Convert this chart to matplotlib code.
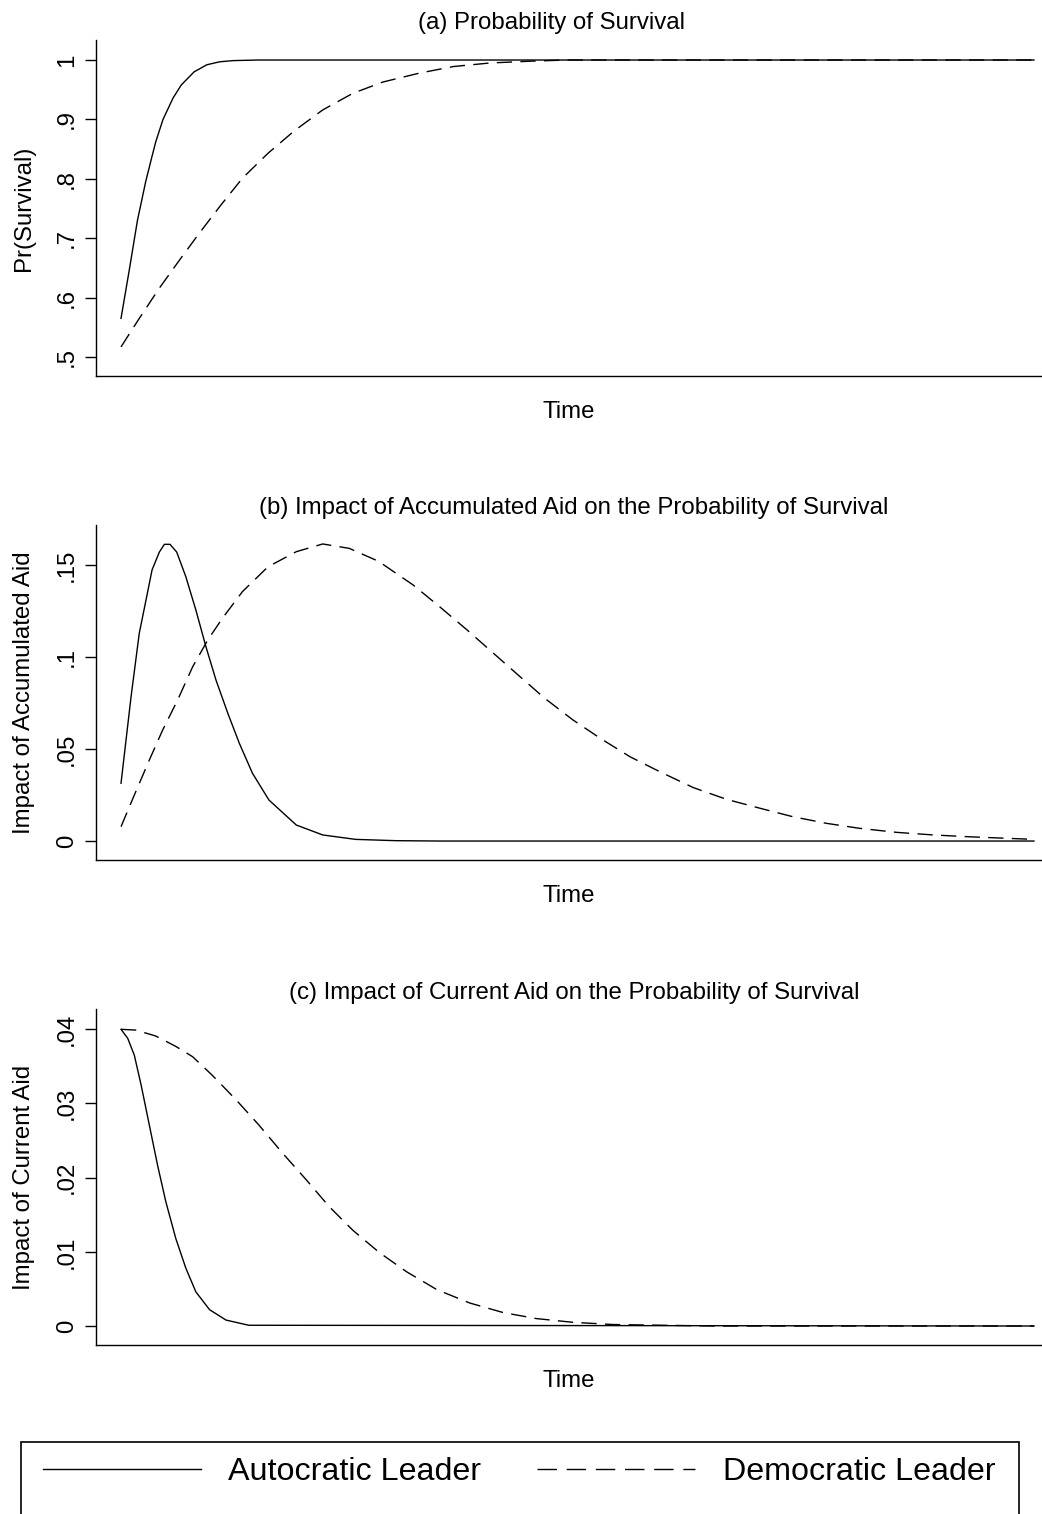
import matplotlib
matplotlib.use('Agg')
import matplotlib.pyplot as plt
from matplotlib.lines import Line2D
from matplotlib.patches import Rectangle

plt.rcParams['font.family'] = ['Liberation Sans', 'DejaVu Sans']

# (a) Probability of Survival
t_a_auto = [0, 0.9, 1.8, 2.7, 3.35, 3.8, 4.6, 5.7, 6.6, 8.0, 9.4, 10.8, 12.3, 15, 100]
a_auto = [0.565, 0.646, 0.73, 0.795, 0.835, 0.862, 0.900, 0.936, 0.958, 0.980,
          0.992, 0.997, 0.999, 1.0, 1.0]
t_a_demo = [0, 2.0, 4.2, 6.4, 8.6, 10.95, 13.3, 16.1, 19.0, 22.1, 25.4, 28.7,
            32.7, 36.4, 40.4, 44.8, 48.8, 100]
a_demo = [0.517, 0.565, 0.616, 0.663, 0.709, 0.756, 0.801, 0.843, 0.881, 0.916,
          0.944, 0.963, 0.978, 0.989, 0.995, 0.998, 1.0, 1.0]

# (b) Impact of accumulated aid
t_b_auto = [0, 1.1, 2.0, 2.74, 3.4, 4.2, 4.75, 5.37, 6.1, 7.1, 8.2, 9.3, 10.4,
            11.7, 12.96, 14.4, 16.2, 19.2, 22.1, 25.7, 30.1, 35, 100]
b_auto = [0.0314, 0.0784, 0.1129, 0.131, 0.1473, 0.157, 0.1612, 0.1612, 0.157,
          0.1436, 0.1255, 0.1056, 0.0875, 0.0694, 0.0531, 0.0368, 0.0223, 0.0087,
          0.0033, 0.0009, 0.0002, 0.0, 0.0]
t_b_demo = [0, 1.46, 3.1, 4.56, 6.2, 7.85, 9.5, 11.1, 13.3, 16.1, 19.2, 22.1,
            25.0, 28.2, 32.0, 34.9, 37.9, 40.8, 43.5, 46.4, 49.5, 52.5, 55.75,
            59.0, 62.7, 66.3, 70.0, 73.6, 77.3, 80.9, 85.0, 89.0, 93.0, 100]
b_demo = [0.0078, 0.025, 0.044, 0.0603, 0.0766, 0.0947, 0.1092, 0.121, 0.1355,
          0.149, 0.1572, 0.1614, 0.159, 0.152, 0.1391, 0.1273, 0.1147, 0.102,
          0.0902, 0.0776, 0.0658, 0.0558, 0.0458, 0.0377, 0.029, 0.0227, 0.0178,
          0.0132, 0.0096, 0.0069, 0.0047, 0.0033, 0.0023, 0.0009]

# (c) Impact of current aid
t_c_auto = [0, 0.73, 1.46, 2.2, 3.1, 4.0, 4.9, 6.0, 7.1, 8.2, 9.7, 11.5, 14, 100]
c_auto = [0.04, 0.0388, 0.0365, 0.0325, 0.0271, 0.0217, 0.0168, 0.0118, 0.0078,
          0.0046, 0.0022, 0.0008, 0.0001, 0.0]
t_c_demo = [0, 1.6, 3.8, 6.0, 7.85, 10.0, 12.6, 15.1, 17.7, 20.3, 22.8, 25.4,
            28.3, 31.3, 34.6, 38.2, 41.9, 45.5, 49.5, 53.9, 59.4, 65, 100]
c_demo = [0.04, 0.0399, 0.0391, 0.0377, 0.0363, 0.0338, 0.0305, 0.0271, 0.0233,
          0.0197, 0.0161, 0.0129, 0.0099, 0.0073, 0.0049, 0.0031, 0.0018, 0.001,
          0.0005, 0.0002, 0.0001, 0.0, 0.0]

titles = ['(a) Probability of Survival',
          '(b) Impact of Accumulated Aid on the Probability of Survival',
          '(c) Impact of Current Aid on the Probability of Survival']
ylabels = ['Pr(Survival)', 'Impact of Accumulated Aid', 'Impact of Current Aid']
yticks = [[0.5, 0.6, 0.7, 0.8, 0.9, 1.0], [0, 0.05, 0.1, 0.15], [0, 0.01, 0.02, 0.03, 0.04]]
yticklabels = [['.5', '.6', '.7', '.8', '.9', '1'], ['0', '.05', '.1', '.15'],
               ['0', '.01', '.02', '.03', '.04']]
ylims = [(0.468, 1.0337), (-0.0103, 0.1717), (-0.00256, 0.04274)]
series = [(t_a_auto, a_auto, t_a_demo, a_demo),
          (t_b_auto, b_auto, t_b_demo, b_demo),
          (t_c_auto, c_auto, t_c_demo, c_demo)]

W, H = 1042, 1514
fig = plt.figure(figsize=(W / 100, H / 100), dpi=100)

# axes boxes in pixels: (top, bottom)
boxes = [(40, 376), (525, 860), (1009, 1345)]
title_y = [23, 508, 993]
title_x = [552, 574, 574]
left, right = 96, 1041
fs = 17.3

for i in range(3):
    top, bot = boxes[i]
    ax = fig.add_axes([left / W, 1 - bot / H, (right - left) / W, (bot - top) / H])
    ta, ya, td, yd = series[i]
    ax.plot(ta, ya, color='black', lw=1.0)
    ax.plot(td, yd, color='black', lw=1.0, dashes=(11, 6))
    ax.set_xlim(-2.74, 100.77)
    ax.set_ylim(*ylims[i])
    ax.spines['top'].set_visible(False)
    ax.spines['right'].set_visible(False)
    ax.spines['left'].set_linewidth(1.0)
    ax.spines['bottom'].set_linewidth(1.0)
    ax.set_xticks([])
    ax.set_yticks(yticks[i])
    ax.set_yticklabels(yticklabels[i], rotation=90, va='center', fontsize=fs)
    ax.tick_params(axis='y', length=8, width=1.0, pad=5)
    ax.set_ylabel(ylabels[i], fontsize=fs, labelpad=15)
    ax.set_xlabel('Time', fontsize=fs, labelpad=18)
    fig.text(title_x[i] / W, 1 - title_y[i] / H, titles[i], ha='center', va='center',
             fontsize=fs)

# legend box (runs off the bottom like the original)
fig.patches.append(Rectangle((21 / W, -0.01), (1019 - 21) / W, 0.01 + (H - 1442) / H,
                             transform=fig.transFigure, fill=False, edgecolor='black',
                             lw=1.2))
handles = [Line2D([], [], color='black', lw=1.0),
           Line2D([], [], color='black', lw=1.0, dashes=(14, 7))]
fig.legend(handles, ['Autocratic Leader', 'Democratic Leader'], loc='center',
           bbox_to_anchor=(519 / W, 1 - 1472 / H), ncol=2, frameon=False,
           fontsize=23.2, handlelength=4.9, handletextpad=0.85, columnspacing=1.75)

fig.savefig('out.png', dpi=100)
